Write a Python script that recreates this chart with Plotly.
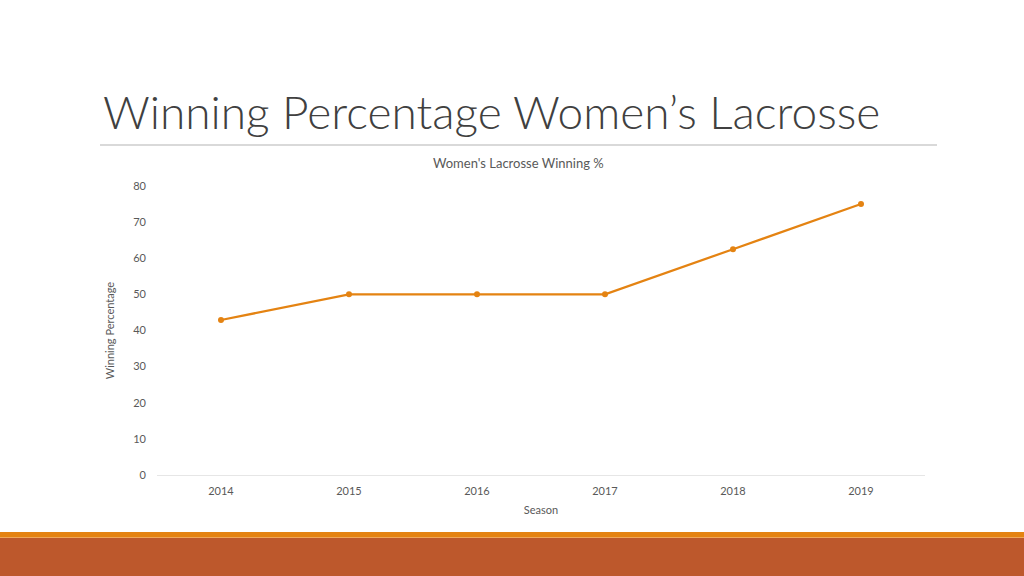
import plotly.graph_objects as go

seasons = ["2014", "2015", "2016", "2017", "2018", "2019"]
win_pct = [42.9, 50, 50, 50, 62.5, 75]
y_ticks = [0, 10, 20, 30, 40, 50, 60, 70, 80]

W, H = 1024, 576
def px(x):
    return x / W
def py(y):
    return 1 - y / H

font_family = "Lato, 'Open Sans', sans-serif"
fig = go.Figure()
fig.add_trace(go.Scatter(
    x=seasons, y=win_pct, mode="lines+markers",
    line=dict(color="#E48312", width=2.25),
    marker=dict(color="#E48312", size=6),
    showlegend=False, hoverinfo="x+y"))

fig.update_layout(
    width=W, height=H,
    margin=dict(l=0, r=0, t=0, b=0, pad=0, autoexpand=False),
    showlegend=False,
    paper_bgcolor="white", plot_bgcolor="white",
    font=dict(family=font_family, color="#595959", size=11),
    xaxis=dict(domain=[px(157), px(925)], type="category", range=[-0.5, 5.5],
               automargin=False,
               showgrid=False, zeroline=False, showline=False,
               ticks="", ticklabelstandoff=8, tickfont=dict(size=11, color="#595959"),
               title=dict(text="Season", font=dict(size=11, color="#595959"), standoff=10)),
    yaxis=dict(domain=[py(475), py(186)], range=[0, 80], tickvals=y_ticks,
               automargin=False,
               showgrid=False, zeroline=True, zerolinecolor="#e6e6e6", zerolinewidth=1,
               showline=False, ticks="", ticklabelstandoff=10,
               tickfont=dict(size=11, color="#595959"),
               title=dict(text="Winning Percentage", font=dict(size=11, color="#595959"), standoff=16)),
    shapes=[
        dict(type="line", xref="paper", yref="paper", x0=px(100), x1=px(937), y0=py(145), y1=py(145),
             line=dict(color="#d9d9d9", width=2)),
        dict(type="rect", xref="paper", yref="paper", x0=0, x1=1, y0=py(537), y1=py(532),
             fillcolor="#E48312", line=dict(width=0)),
        dict(type="rect", xref="paper", yref="paper", x0=0, x1=1, y0=py(538), y1=py(537),
             fillcolor="#EFA85A", line=dict(width=0)),
        dict(type="rect", xref="paper", yref="paper", x0=0, x1=1, y0=-0.05, y1=py(538),
             fillcolor="#BD582C", line=dict(width=0)),
    ],
    annotations=[
        dict(text="Winning Percentage Women’s Lacrosse", xref="paper", yref="paper",
             x=px(101), y=py(112), xanchor="left", yanchor="middle", showarrow=False,
             font=dict(family="Lato Light, Lato, sans-serif", size=46, color="#404040")),
        dict(text="Women's Lacrosse Winning %", xref="paper", yref="paper",
             x=px(518), y=py(163), xanchor="center", yanchor="middle", showarrow=False,
             font=dict(size=13, color="#595959")),
    ],
)
fig.write_html(
    "out.html",
    config={"displayModeBar": False},
    post_script=(
        "document.documentElement.style.margin='0';"
        "document.body.style.margin='0';"
        "document.body.style.overflow='hidden';"
        "var d=document.getElementById('{plot_id}');"
        "d.style.position='fixed';d.style.top='0';d.style.left='0';"
    ),
)
